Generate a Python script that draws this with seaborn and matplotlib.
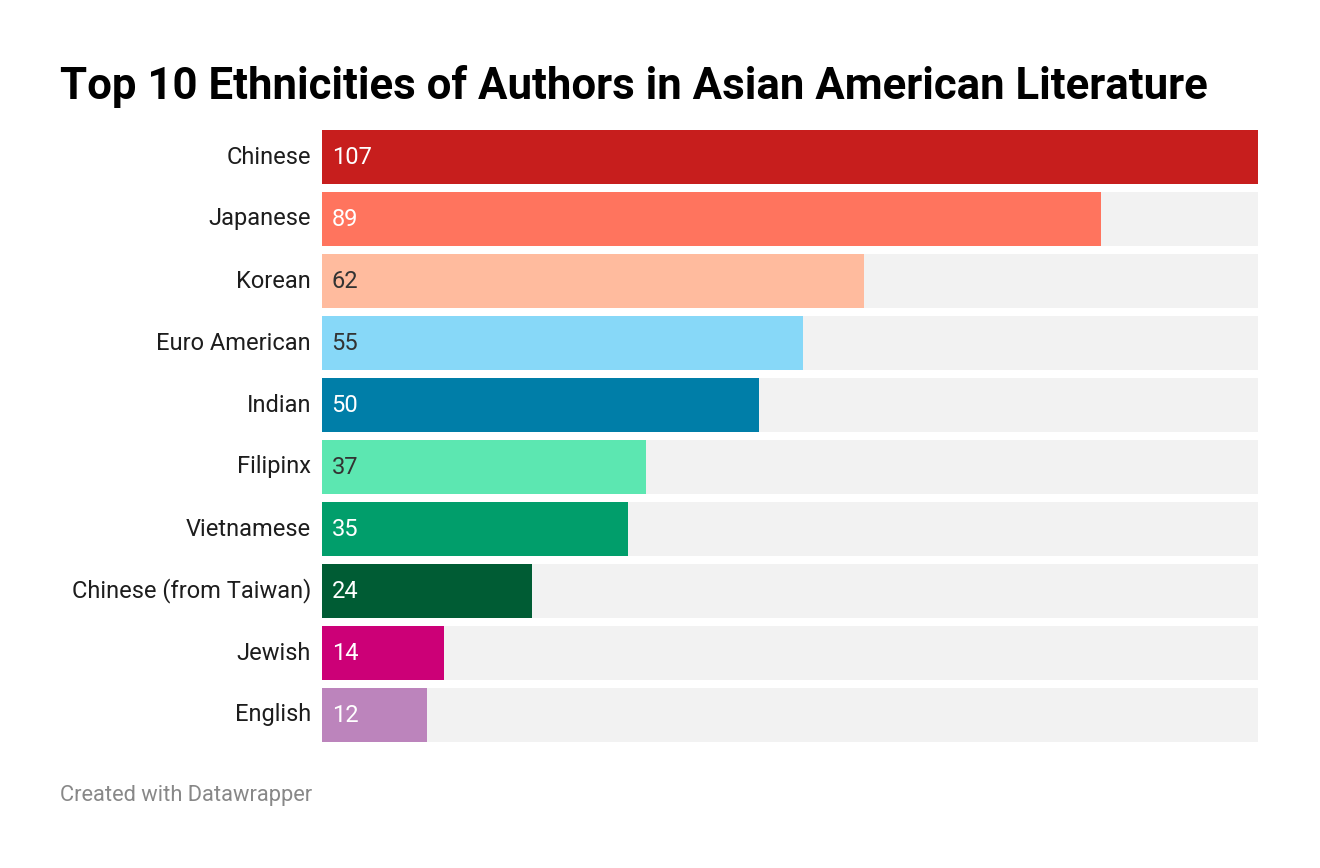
import pandas as pd
import matplotlib.pyplot as plt
import seaborn as sns

# data
ethnicities = ["Chinese", "Japanese", "Korean", "Euro American", "Indian",
               "Filipinx", "Vietnamese", "Chinese (from Taiwan)", "Jewish", "English"]
counts = [107, 89, 62, 55, 50, 37, 35, 24, 14, 12]
colors = ["#c71e1d", "#ff745e", "#ffbb9e", "#87d8f8", "#007ea8",
          "#5ce7b1", "#019e6b", "#005c34", "#cc0077", "#bc84bc"]
label_colors = ["white", "white", "#333333", "#333333", "white",
                "#333333", "white", "white", "white", "white"]

df = pd.DataFrame({"ethnicity": ethnicities, "count": counts})
df["full"] = max(counts)

sns.set_theme(style="white")
plt.rcParams["font.family"] = ["Roboto", "DejaVu Sans"]

fig = plt.figure(figsize=(13.2, 8.68), dpi=100)
ax = fig.add_axes([322 / 1320, 1 - 746 / 868, 936 / 1320, 620 / 868])

# grey background bars
sns.barplot(data=df, x="full", y="ethnicity", color="#f2f2f2", width=54 / 62,
            saturation=1, linewidth=0, ax=ax)
# coloured bars
sns.barplot(data=df, x="count", y="ethnicity", hue="ethnicity", palette=colors,
            width=54 / 62, saturation=1, linewidth=0, legend=False, ax=ax)

for i, (v, c) in enumerate(zip(counts, label_colors)):
    ax.text(1.1, i, str(v), color=c, fontsize=17, va="center", ha="left")

ax.set_xlim(0, max(counts))
ax.set_ylim(9.5, -0.5)
ax.set_xlabel("")
ax.set_ylabel("")
ax.set_xticks([])
ax.tick_params(axis="y", length=0, pad=8, labelsize=17, labelcolor="#1d1d1d")
for lbl in ax.get_yticklabels():
    lbl.set_verticalalignment("center")
sns.despine(ax=ax, left=True, bottom=True, top=True, right=True)

fig.text(60 / 1320, 1 - 86 / 868, "Top 10 Ethnicities of Authors in Asian American Literature",
         fontsize=31.5, fontweight="bold", color="black", va="center", ha="left")
fig.text(60 / 1320, 1 - 795 / 868, "Created with Datawrapper",
         fontsize=15.75, color="#888888", va="center", ha="left")

fig.savefig("out.png", dpi=100)
